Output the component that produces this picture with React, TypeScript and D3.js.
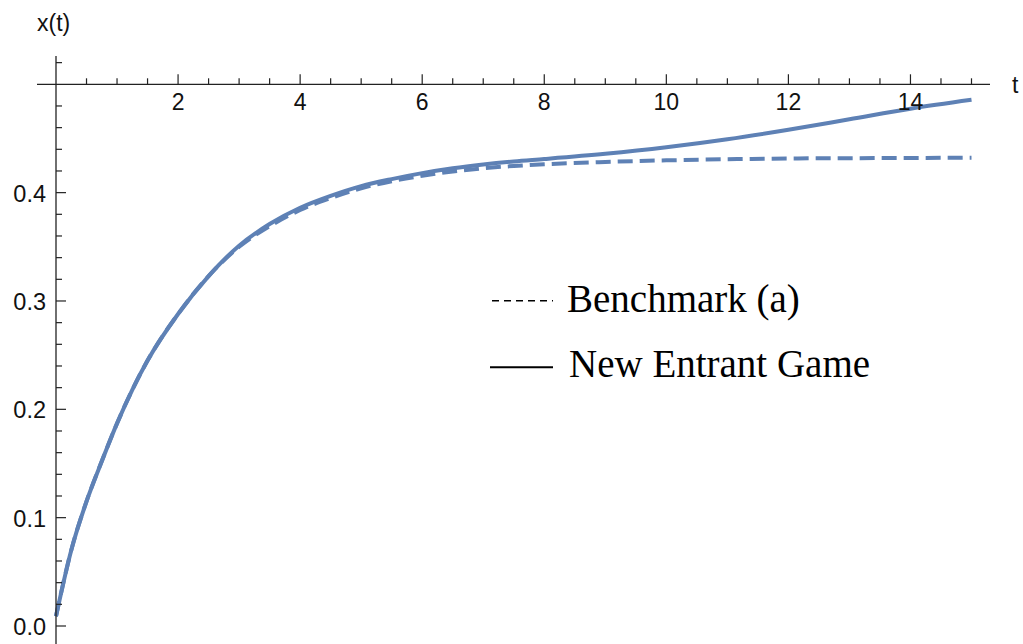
import React from "react";
import * as d3 from "d3";

// Time grid (t) shared by both trajectories
const tValues = [0, 0.25, 0.5, 0.75, 1, 1.25, 1.5, 2, 2.5, 3, 3.5, 4, 4.5, 5, 5.5, 6, 6.5, 7, 7.5, 8, 9, 10, 11, 12, 13, 14, 15];

// x(t) for the new entrant game (solid)
const newEntrant = [0.009, 0.07, 0.115, 0.152, 0.187, 0.218, 0.245, 0.288, 0.323, 0.351, 0.371, 0.386, 0.397, 0.406, 0.4125, 0.418, 0.4225, 0.426, 0.4288, 0.431, 0.4358, 0.4418, 0.4492, 0.458, 0.4677, 0.4775, 0.4857];

// x(t) for benchmark (a) (dashed)
const benchmark = [0.009, 0.07, 0.115, 0.152, 0.187, 0.218, 0.245, 0.288, 0.323, 0.35, 0.369, 0.384, 0.395, 0.404, 0.4105, 0.4155, 0.4195, 0.4225, 0.4246, 0.4262, 0.4283, 0.4298, 0.4308, 0.4315, 0.4318, 0.432, 0.4322];

const xMajorTicks = [2, 4, 6, 8, 10, 12, 14];
const yMajorTicks = [0, 0.1, 0.2, 0.3, 0.4];
const legendLabels = ["Benchmark (a)", "New Entrant Game"];

const W = 1023;
const H = 644;
const BLUE = "#5E81B5";
const AXIS = "#222";
const TICK_FONT = "'Liberation Sans', Arial, sans-serif";
const LEGEND_FONT = "'Liberation Serif', 'Times New Roman', serif";

export default function App() {
  const x = d3.scaleLinear().domain([0, 15]).range([56, 971.5]);
  const y = d3.scaleLinear().domain([0, 0.5]).range([626, 84.3]);

  const line = d3
    .line<number>()
    .x((_, i) => x(tValues[i]))
    .y((d) => y(d))
    .curve(d3.curveMonotoneX);

  const x0 = x(0);
  const yAxisPos = y(0.5);

  // minor ticks every 0.5 on t, every 0.02 on x(t)
  const xMinor = d3.range(1, 31).map((k) => k * 0.5).filter((v) => !xMajorTicks.includes(v));
  const yMinor = d3
    .range(-1, 27)
    .map((k) => +(k * 0.02).toFixed(2))
    .filter((v) => Math.abs(v * 10 - Math.round(v * 10)) > 1e-6);

  return (
    <svg
      width={W}
      height={H}
      style={{ position: "absolute", left: 0, top: 0, background: "#fff" }}
    >
      {/* curves */}
      <path
        d={line(benchmark) || ""}
        fill="none"
        stroke={BLUE}
        strokeWidth={4}
        strokeDasharray="15,7"
      />
      <path d={line(newEntrant) || ""} fill="none" stroke={BLUE} strokeWidth={4} />

      {/* t axis */}
      <line x1={37} x2={990} y1={yAxisPos} y2={yAxisPos} stroke={AXIS} strokeWidth={1.3} />
      {xMinor.map((v) => (
        <line key={"xm" + v} x1={x(v)} x2={x(v)} y1={yAxisPos} y2={yAxisPos - 6} stroke={AXIS} strokeWidth={1.2} />
      ))}
      {xMajorTicks.map((v) => (
        <g key={"xM" + v}>
          <line x1={x(v)} x2={x(v)} y1={yAxisPos} y2={yAxisPos - 10} stroke={AXIS} strokeWidth={1.2} />
          <text x={x(v)} y={109.5} textAnchor="middle" fontFamily={TICK_FONT} fontSize={23} fill="#111">
            {v}
          </text>
        </g>
      ))}

      {/* x(t) axis */}
      <line x1={x0} x2={x0} y1={56} y2={H} stroke={AXIS} strokeWidth={1.3} />
      {yMinor.map((v) => (
        <line key={"ym" + v} x1={x0} x2={x0 + 6} y1={y(v)} y2={y(v)} stroke={AXIS} strokeWidth={1.2} />
      ))}
      {yMajorTicks.map((v) => (
        <g key={"yM" + v}>
          <line x1={x0} x2={x0 + 10} y1={y(v)} y2={y(v)} stroke={AXIS} strokeWidth={1.2} />
          <text x={46} y={y(v) + 9} textAnchor="end" fontFamily={TICK_FONT} fontSize={23.5} fill="#111">
            {v.toFixed(1)}
          </text>
        </g>
      ))}

      {/* axis titles */}
      <text x={37} y={31} fontFamily={TICK_FONT} fontSize={23} fill="#111">
        x(t)
      </text>
      <text x={1012} y={93} fontFamily={TICK_FONT} fontSize={23} fill="#111">
        t
      </text>

      {/* legend */}
      <line x1={492} x2={553} y1={300.7} y2={300.7} stroke="#000" strokeWidth={1.6} strokeDasharray="7,5" />
      <text x={567} y={311.5} fontFamily={LEGEND_FONT} fontSize={39} fill="#000">
        {legendLabels[0]}
      </text>
      <line x1={490} x2={553} y1={367.3} y2={367.3} stroke="#000" strokeWidth={2} />
      <text x={569} y={376.5} fontFamily={LEGEND_FONT} fontSize={39} fill="#000">
        {legendLabels[1]}
      </text>
    </svg>
  );
}
